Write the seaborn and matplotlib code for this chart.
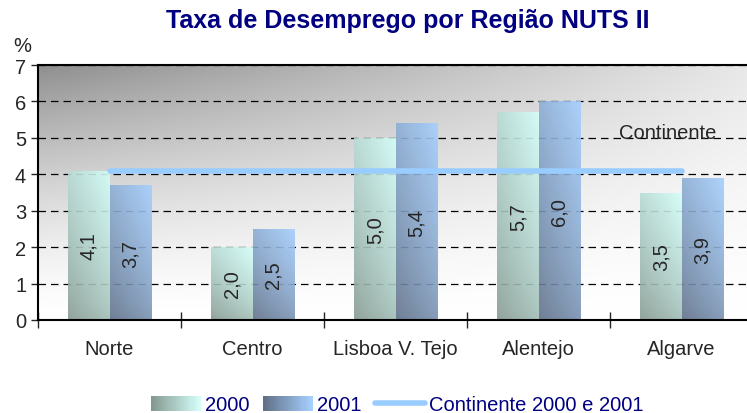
import numpy as np
import pandas as pd
import matplotlib
matplotlib.use("Agg")
import matplotlib.pyplot as plt
from matplotlib.colors import to_rgb
from matplotlib.lines import Line2D
from matplotlib.patches import Patch, Rectangle
from matplotlib.legend_handler import HandlerBase
import seaborn as sns

regioes = ["Norte", "Centro", "Lisboa V. Tejo", "Alentejo", "Algarve"]
taxa_2000 = [4.1, 2.0, 5.0, 5.7, 3.5]
taxa_2001 = [3.7, 2.5, 5.4, 6.0, 3.9]
continente = 4.1

sns.set_style("white")
plt.rcParams["font.family"] = ["Liberation Sans", "DejaVu Sans"]

NAVY = "#000080"
FS = 14.5
# (escuro, claro) para o gradiente de cada série
grad_2000 = ("#849890", "#d4fff9")
grad_2001 = ("#5f6f86", "#a6d0ff")


def mix(grad, t):
    c0, c1 = np.array(to_rgb(grad[0])), np.array(to_rgb(grad[1]))
    return c0 * (1 - t) + c1 * t


class GradHandler(HandlerBase):
    def create_artists(self, legend, orig_handle, xdescent, ydescent,
                       width, height, fontsize, trans):
        n = 24
        arts = []
        for i in range(n):
            t = i / (n - 1)
            r = Rectangle((-xdescent + i * width / n, -ydescent), width / n + 0.3,
                          height, facecolor=mix(orig_handle.grad, t),
                          edgecolor="none", transform=trans)
            arts.append(r)
        return arts


df = pd.DataFrame({
    "regiao": regioes * 2,
    "ano": ["2000"] * len(regioes) + ["2001"] * len(regioes),
    "taxa": taxa_2000 + taxa_2001,
})

fig = plt.figure(figsize=(7.47, 4.14), dpi=100)
ax = fig.add_axes([38 / 747, 93 / 414, 715 / 747, 255 / 414])

# fundo cinzento em gradiente (escuro no canto superior esquerdo)
yy, xx = np.mgrid[0:1:200j, 0:1:200j]
bright = 1 - 0.44 * yy ** 1.5 * (1 - 0.8 * xx)
bg = np.dstack([bright] * 3)
ax.imshow(bg, extent=[0, 1, 0, 1], transform=ax.transAxes, origin="lower",
          aspect="auto", zorder=0, interpolation="bilinear")

sns.barplot(data=df, x="regiao", y="taxa", hue="ano", order=regioes,
            palette={"2000": grad_2000[1], "2001": grad_2001[1]},
            width=0.574, gap=0, ax=ax, zorder=2, legend=False)

# gradiente dentro das barras
for cont, grad in zip(ax.containers, [grad_2000, grad_2001]):
    for p in cont.patches:
        x, w, h = p.get_x(), p.get_width(), p.get_height()
        gy, gx = np.mgrid[0:1:100j, 0:1:100j]
        t = np.clip(0.35 * gx + 0.65 * gy ** 0.8, 0, 1)[..., None]
        img = mix(grad, t)
        im = ax.imshow(img, extent=[x, x + w, 0, h], origin="lower",
                       aspect="auto", zorder=2.5, interpolation="bilinear",
                       alpha=0.9)
        im.set_clip_path(p)
        p.set_facecolor("none")
        p.set_edgecolor("none")

for cont, vals in zip(ax.containers, [taxa_2000, taxa_2001]):
    ax.bar_label(cont, labels=[f"{v:.1f}".replace(".", ",") for v in vals],
                 label_type="center", rotation=90, fontsize=FS, zorder=4)

sns.lineplot(x=regioes, y=[continente] * len(regioes), sort=False,
             color="#99ccff", linewidth=4, ax=ax, zorder=3)
ax.text(3.9, 5.15, "Continente", fontsize=FS, ha="center", va="center", zorder=4)

ax.set_xlim(-0.5, 4.5)
ax.set_ylim(0, 7)
ax.set_yticks(range(0, 8))
ax.set_axisbelow(True)
ax.yaxis.grid(True, color="black", linestyle=(0, (6, 4)), linewidth=0.9)
ax.set_xlabel("")
ax.set_ylabel("")
ax.tick_params(axis="y", which="major", length=5, width=1, direction="out",
               labelsize=FS, left=True)
ax.tick_params(axis="x", which="major", length=0, pad=14, labelsize=FS)
ax.set_xticks(np.arange(-0.5, 5.0, 1.0), minor=True)
ax.tick_params(axis="x", which="minor", length=12, width=1, direction="inout",
               bottom=True)
for s in ["left", "bottom", "top"]:
    ax.spines[s].set_color("black")
    ax.spines[s].set_linewidth(1.5)
    ax.spines[s].set_zorder(5)
ax.spines["right"].set_visible(False)

fig.text(408 / 747, 1 - 21 / 414, "Taxa de Desemprego por Região NUTS II",
         ha="center", va="center", fontsize=18, fontweight="bold", color=NAVY)
fig.text(22 / 747, 1 - 46 / 414, "%", ha="center", va="center", fontsize=FS)

h2000 = Patch(label="2000")
h2000.grad = grad_2000
h2001 = Patch(label="2001")
h2001.grad = grad_2001
hline = Line2D([0], [0], color="#99ccff", linewidth=4, label="Continente 2000 e 2001")
leg = fig.legend(handles=[h2000, h2001, hline], loc="center",
                 bbox_to_anchor=(397 / 747, 8 / 414), ncol=3, frameon=False,
                 fontsize=FS, handlelength=2.5, handleheight=0.75,
                 columnspacing=0.65, handletextpad=0.2,
                 handler_map={h2000: GradHandler(), h2001: GradHandler()})
for t in leg.get_texts():
    t.set_color(NAVY)

fig.savefig("out.png", dpi=100)
